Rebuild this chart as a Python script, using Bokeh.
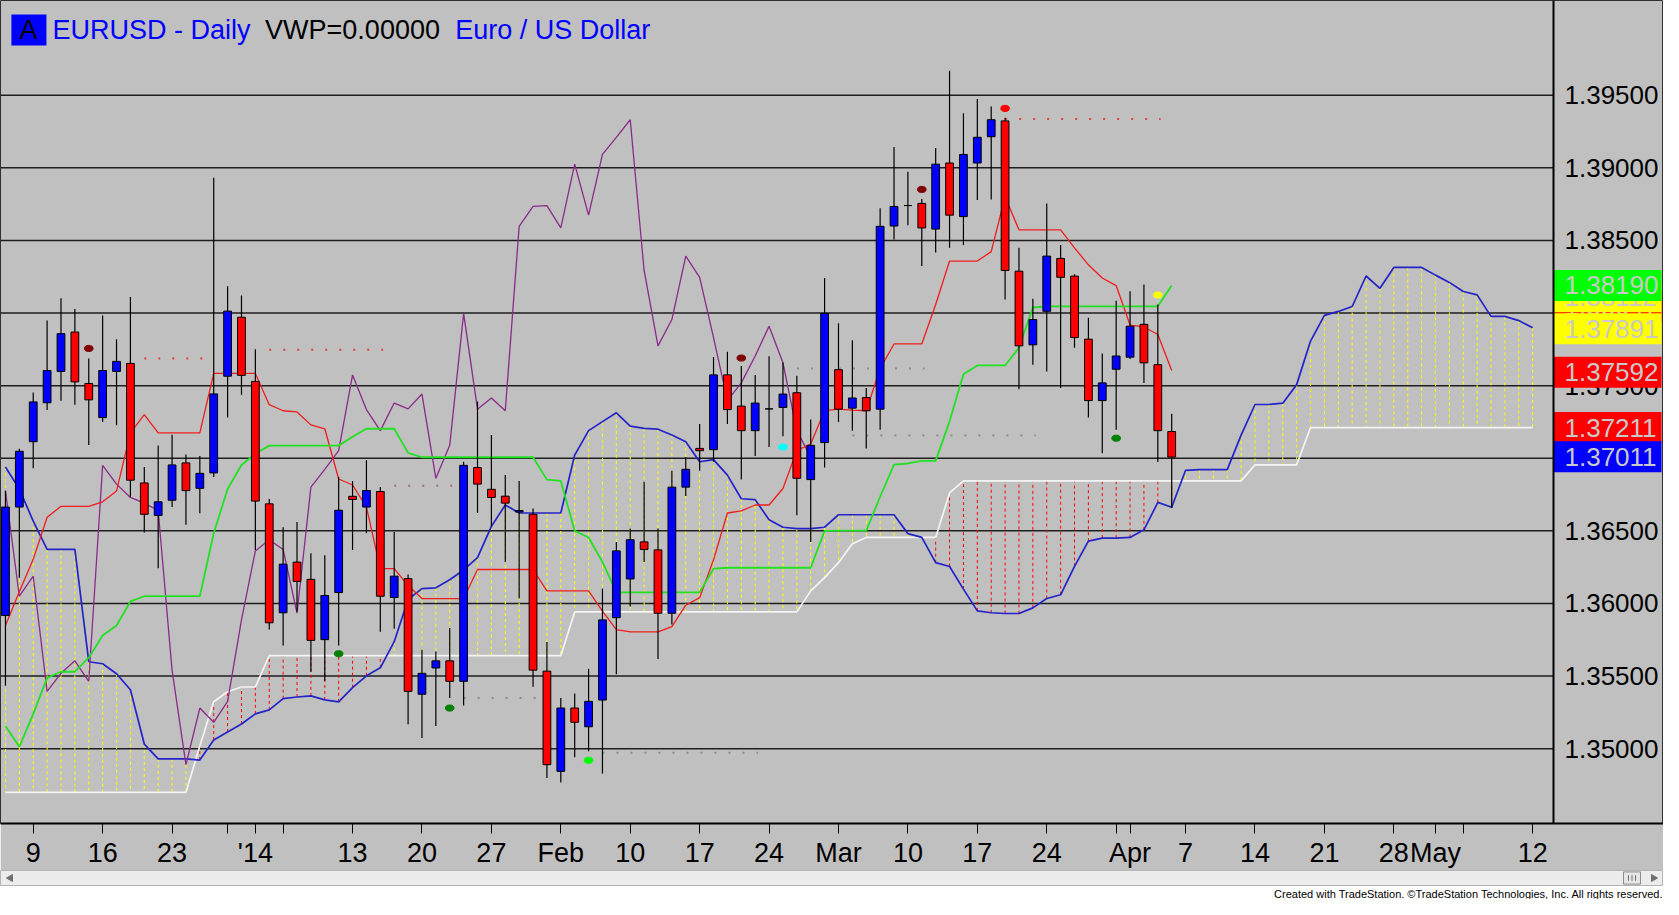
from bokeh.plotting import figure
from bokeh.layouts import column
from bokeh.models import ColumnDataSource, FixedTicker, Label, Range1d, Title
from bokeh.core.properties import value
from bokeh.embed import file_html
from bokeh.resources import INLINE

# ---------------- data (EURUSD daily, 5 Dec 2013 .. 4 Apr 2014, bar index 0..84) ----------------
open_ = [1.35917,1.36664,1.37114,1.37382,1.37598,1.37869,1.37515,1.37280,1.37598,1.37653,
         1.36830,1.36606,1.36711,1.36968,1.36793,1.36899,1.37565,1.37971,1.37529,1.36686,
         1.35936,1.36285,1.36166,1.35751,1.36075,1.36738,1.36664,1.36771,1.36041,1.36171,
         1.35375,1.35556,1.35605,1.35464,1.36936,1.36786,1.36739,1.36630,1.36614,1.35534,
         1.34844,1.35280,1.35151,1.35335,1.35902,1.36169,1.36424,1.36369,1.35933,1.36801,
         1.37068,1.37059,1.37574,1.37359,1.37190,1.37340,1.37350,1.37451,1.36853,1.37108,
         1.37610,1.37345,1.37418,1.37338,1.38599,1.38740,1.38755,1.38578,1.39033,1.38664,
         1.39033,1.39214,1.39323,1.38288,1.37781,1.38012,1.38376,1.38254,1.37820,1.37397,
         1.37613,1.37696,1.37922,1.37644,1.37184]
high = [1.36774,1.37065,1.37452,1.37949,1.38101,1.38027,1.37687,1.37983,1.37820,1.38110,
        1.36940,1.37087,1.37161,1.37026,1.37015,1.38931,1.38184,1.38121,1.37750,1.36719,
        1.36525,1.36561,1.36346,1.36332,1.36871,1.36843,1.36988,1.36802,1.36492,1.36199,
        1.35682,1.35670,1.35832,1.36976,1.37390,1.37160,1.36884,1.36844,1.36654,1.35734,
        1.35350,1.35381,1.35550,1.36102,1.36424,1.36516,1.36838,1.36516,1.36914,1.37007,
        1.37236,1.37697,1.37733,1.37635,1.37574,1.37703,1.37660,1.37568,1.37267,1.38242,
        1.37930,1.37813,1.37483,1.38721,1.39144,1.38973,1.38786,1.39137,1.39669,1.39375,
        1.39474,1.39422,1.39344,1.38449,1.38098,1.38755,1.38469,1.38267,1.37968,1.37722,
        1.38085,1.38150,1.38197,1.38059,1.37306]
low = [1.35433,1.36177,1.36932,1.37333,1.37396,1.37369,1.37092,1.37250,1.37228,1.36733,
       1.36489,1.36243,1.36664,1.36542,1.36622,1.36871,1.37280,1.37438,1.36368,1.35820,
       1.35710,1.35945,1.35530,1.35466,1.35710,1.36368,1.36484,1.35806,1.35826,1.35168,
       1.35074,1.35157,1.35350,1.35298,1.36623,1.36531,1.36286,1.36034,1.35427,1.34798,
       1.34768,1.34942,1.34982,1.34829,1.35513,1.35979,1.36286,1.35617,1.35856,1.36740,
       1.36914,1.36976,1.37236,1.36853,1.37016,1.37077,1.37151,1.36608,1.36424,1.36936,
       1.37249,1.37190,1.37068,1.37197,1.38506,1.38604,1.38324,1.38417,1.38449,1.38469,
       1.38778,1.38781,1.38093,1.37475,1.37644,1.37597,1.37483,1.37761,1.37280,1.37034,
       1.37197,1.37683,1.37519,1.36974,1.36657]
close = [1.36664,1.37048,1.37388,1.37604,1.37858,1.37526,1.37402,1.37604,1.37667,1.36849,
         1.36614,1.36700,1.36954,1.36777,1.36896,1.37443,1.38013,1.37571,1.36705,1.35867,
         1.36271,1.36152,1.35746,1.36055,1.36642,1.36716,1.36778,1.36050,1.36188,1.35395,
         1.35519,1.35605,1.35464,1.36951,1.36822,1.36730,1.36691,1.36640,1.35541,1.34890,
         1.35280,1.35182,1.35326,1.35887,1.36362,1.36439,1.36372,1.35933,1.36801,1.36924,
         1.37052,1.37574,1.37335,1.37190,1.37380,1.37340,1.37442,1.36862,1.37089,1.37997,
         1.37338,1.37415,1.37327,1.38597,1.38734,1.38740,1.38586,1.39025,1.38674,1.39092,
         1.39210,1.39331,1.38293,1.37774,1.37955,1.38392,1.38246,1.37831,1.37397,1.37519,
         1.37704,1.37909,1.37657,1.37190,1.37008]

# Ichimoku lines
tenkan = [1.35848,1.36081,1.36304,1.36594,1.36669,1.36669,1.36669,1.36700,1.36774,1.37175,
          1.37300,1.37175,1.37175,1.37175,1.37175,1.37584,1.37584,1.37584,1.37584,1.37369,
          1.37327,1.37319,1.37230,1.37203,1.36857,1.36816,1.36664,1.36240,1.36240,1.36124,
          1.36034,1.36034,1.36034,1.36034,1.36234,1.36234,1.36234,1.36234,1.36234,1.36087,
          1.36087,1.36087,1.36087,1.35948,1.35820,1.35804,1.35804,1.35804,1.35841,1.35988,
          1.36040,1.36301,1.36623,1.36638,1.36678,1.36678,1.36792,1.37052,1.37098,1.37328,
          1.37338,1.37332,1.37327,1.37618,1.37787,1.37787,1.37787,1.38059,1.38358,1.38358,
          1.38358,1.38423,1.38799,1.38573,1.38573,1.38573,1.38573,1.38449,1.38332,1.38241,
          1.38189,1.37917,1.37904,1.37852,1.37605]
kijun = [1.35157,1.35013,1.35240,1.35488,1.35530,1.35530,1.35627,1.35779,1.35848,1.36014,
         1.36050,1.36050,1.36050,1.36050,1.36050,1.36484,1.36788,1.36954,1.37031,1.37087,
         1.37087,1.37087,1.37087,1.37087,1.37087,1.37148,1.37203,1.37203,1.37203,1.37037,
         1.37007,1.37007,1.37007,1.37007,1.37007,1.37007,1.37007,1.37007,1.37007,1.36853,
         1.36844,1.36500,1.36454,1.36286,1.36077,1.36077,1.36077,1.36077,1.36077,1.36077,
         1.36077,1.36240,1.36246,1.36246,1.36246,1.36246,1.36246,1.36246,1.36246,1.36500,
         1.36502,1.36502,1.36502,1.36735,1.36956,1.36964,1.36982,1.36982,1.37254,1.37579,
         1.37639,1.37639,1.37639,1.37761,1.38038,1.38046,1.38046,1.38046,1.38046,1.38046,
         1.38046,1.38046,1.38046,1.38046,1.38189]
# leading spans, bar index 0..110 (26 bars past the last candle)
senkou_a = [1.36940,1.36788,1.36567,1.36373,1.36373,1.36373,1.35599,1.35585,1.35516,1.35406,
            1.35032,1.34930,1.34930,1.34930,1.34922,1.35060,1.35115,1.35170,1.35240,1.35267,
            1.35345,1.35356,1.35364,1.35336,1.35323,1.35420,1.35502,1.35557,1.35737,1.36028,
            1.36102,1.36108,1.36163,1.36231,1.36316,1.36531,1.36678,1.36623,1.36623,1.36623,
            1.36623,1.37022,1.37190,1.37252,1.37313,1.37221,1.37206,1.37200,1.37160,1.37114,
            1.36976,1.36991,1.36884,1.36721,1.36715,1.36577,1.36525,1.36516,1.36516,1.36525,
            1.36611,1.36611,1.36611,1.36611,1.36611,1.36481,1.36455,1.36281,1.36255,1.36099,
            1.35949,1.35936,1.35931,1.35931,1.35970,1.36034,1.36060,1.36255,1.36429,1.36450,
            1.36450,1.36455,1.36507,1.36696,1.36663,1.36917,1.36922,1.36922,1.36922,1.37159,
            1.37370,1.37370,1.37379,1.37507,1.37807,1.37984,1.38011,1.38045,1.38255,1.38170,
            1.38314,1.38314,1.38314,1.38261,1.38211,1.38148,1.38125,1.37977,1.37977,1.37948,
            1.37898]
senkou_b = [1.34700,1.34700,1.34700,1.34700,1.34700,1.34700,1.34700,1.34700,1.34700,1.34700,
            1.34700,1.34700,1.34700,1.34700,1.35018,1.35323,1.35392,1.35425,1.35425,1.35641,
            1.35641,1.35641,1.35641,1.35641,1.35641,1.35641,1.35641,1.35641,1.35641,1.35641,
            1.35641,1.35641,1.35641,1.35641,1.35641,1.35641,1.35641,1.35641,1.35641,1.35641,
            1.35641,1.35942,1.35942,1.35942,1.35942,1.35942,1.35942,1.35942,1.35942,1.35942,
            1.35942,1.35942,1.35942,1.35942,1.35942,1.35942,1.35942,1.35942,1.36087,1.36178,
            1.36281,1.36411,1.36455,1.36455,1.36455,1.36455,1.36455,1.36455,1.36761,1.36844,
            1.36844,1.36844,1.36844,1.36844,1.36844,1.36844,1.36844,1.36844,1.36844,1.36844,
            1.36844,1.36844,1.36844,1.36844,1.36844,1.36844,1.36844,1.36844,1.36844,1.36844,
            1.36955,1.36955,1.36955,1.36955,1.37211,1.37211,1.37211,1.37211,1.37211,1.37211,
            1.37211,1.37211,1.37211,1.37211,1.37211,1.37211,1.37211,1.37211,1.37211,1.37211,
            1.37211]
CHIKOU_SHIFT = 26

# signal dots
dot_bars = [6, 24, 32, 42, 53, 56, 66, 72, 80, 83]
dot_prices = [1.37756, 1.35654, 1.35280, 1.34920, 1.37690, 1.37077, 1.38851, 1.39409, 1.37138, 1.38124]
dot_colors = ["#800000", "#008000", "#008000", "#00ff00", "#800000", "#00ffff",
              "#800000", "#ff0000", "#008000", "#ffff00"]

# dotted levels
lvl_start = [10, 19, 28, 33, 43, 56, 61, 72]
lvl_end = [14, 27, 32, 38, 54, 66, 74, 83]
lvl_price = [1.37687, 1.37747, 1.36810, 1.35350, 1.34973, 1.37618, 1.37156, 1.39336]
lvl_color = ["#e04040", "#e04040", "#a07070", "#8c8c8c", "#8c8c8c", "#8c8c8c", "#8c8c8c", "#e04040"]

# axes
date_tick_bars = [2, 7, 12, 16, 18, 20, 25, 30, 35, 40, 45, 50, 55, 60, 65, 70, 75, 80, 81,
                  85, 90, 95, 100, 103, 105, 110]
date_tick_labels = ["9", "16", "23", "", "'14", "", "13", "20", "27", "Feb", "10", "17", "24",
                    "Mar", "10", "17", "24", "", "Apr", "7", "14", "21", "28", "May", "", "12"]
grid_prices = [1.350, 1.355, 1.360, 1.365, 1.370, 1.375, 1.380, 1.385, 1.390, 1.395]
axis_prices = [1.350, 1.355, 1.360, 1.365, 1.375, 1.385, 1.390, 1.395]
axis_labels = ["1.35000", "1.35500", "1.36000", "1.36500", "1.37500", "1.38500", "1.39000", "1.39500"]

# last-value tags on the price scale (drawn in this order)
tag_prices = [1.38047, 1.38112, 1.38190, 1.37891, 1.37592, 1.37211, 1.37011]
tag_texts = ["1.38047", "1.38112", "1.38190", "1.37891", "1.37592", "1.37211", "1.37011"]
tag_colors = ["#ff0000", "#ffff00", "#00ff00", "#ffff00", "#ff0000", "#ff0000", "#0000ff"]

# ---------------- figure geometry ----------------
W = 1663
H_MAIN, BOTTOM = 870, 47
H_BAR = 29
SCALE_W = 110                      # width of the price-scale strip, px
CHART_W = W - SCALE_W              # width of the chart area, px
FRAME_H = H_MAIN - BOTTOM
X0, X1 = -0.357, 111.5             # chart area in bar units
Y0, Y1 = 1.34485, 1.40152
DX = (X1 - X0) / CHART_W           # bar units per px
DY = (Y1 - Y0) / FRAME_H           # price per px
XE = X1 + SCALE_W * DX
REF_W, REF_H = 1566.0, 837.0       # reference chart size, used to place the header texts


def px2x(px):
    return X0 + px / REF_W * (X1 - X0)


def py2y(py):
    return Y1 - py / REF_H * (Y1 - Y0)


p = figure(width=W, height=H_MAIN, x_range=Range1d(X0, XE), y_range=Range1d(Y0, Y1),
           output_backend="svg", toolbar_location=None, y_axis_location=None,
           min_border_left=0, min_border_right=0, min_border_top=0, min_border_bottom=BOTTOM,
           background_fill_color="#c0c0c0", border_fill_color="#c0c0c0",
           outline_line_color="#303030", outline_line_width=1)

FONT = "Liberation Sans"

p.xgrid.visible = False
p.ygrid.visible = False

p.xaxis.ticker = FixedTicker(ticks=date_tick_bars)
p.xaxis.major_label_overrides = dict(zip(date_tick_bars, date_tick_labels))
p.xaxis.major_label_text_font = FONT
p.xaxis.major_label_text_font_size = "27px"
p.xaxis.major_label_text_color = "black"
p.xaxis.axis_line_color = "black"
p.xaxis.axis_line_width = 2
p.xaxis.major_tick_out = 10
p.xaxis.major_tick_in = 0
p.xaxis.major_tick_line_color = "black"
p.xaxis.minor_tick_out = 0
p.xaxis.minor_tick_in = 0
p.xaxis.major_label_standoff = 4

# horizontal price grid (chart area only)
p.segment(x0=[X0] * len(grid_prices), y0=grid_prices, x1=[X1] * len(grid_prices), y1=grid_prices,
          line_color="#1e1e1e", line_width=1.5)

# ---------------- cloud hatching ----------------
cloud_x = list(range(len(senkou_a)))
hatch_col = ["#ffff00" if a >= b else "#ff0000" for a, b in zip(senkou_a, senkou_b)]
p.segment(x0=cloud_x, y0=senkou_a, x1=cloud_x, y1=senkou_b, line_color=hatch_col,
          line_width=1, line_dash="3 3")

# dotted levels
for s, e, pr, c in zip(lvl_start, lvl_end, lvl_price, lvl_color):
    p.segment(x0=[s], y0=[pr], x1=[e + 0.2], y1=[pr], line_color=c, line_width=2, line_dash="2 12")

# ---------------- lines ----------------
p.line(cloud_x, senkou_b, line_color="#f4f4f4", line_width=1.7)
p.line(cloud_x, senkou_a, line_color="#2323c8", line_width=1.7)
bars = list(range(len(close)))
p.line(list(range(len(close) - CHIKOU_SHIFT)), close[CHIKOU_SHIFT:], line_color="#8a2a8a", line_width=1.3)
p.line(bars, tenkan, line_color="#f01c1c", line_width=1.3)
p.line(bars, kijun, line_color="#22e022", line_width=1.8)

# ---------------- candles ----------------
col = ["#0000ff" if c > o else ("#ff0000" if c < o else "#000000") for o, c in zip(open_, close)]
src = ColumnDataSource(dict(x=bars, h=high, l=low,
                            top=[max(o, c) for o, c in zip(open_, close)],
                            bottom=[min(o, c) for o, c in zip(open_, close)],
                            color=col))
p.segment(x0="x", y0="h", x1="x", y1="l", source=src, line_color="black", line_width=1.2)
p.vbar(x="x", width=0.56, top="top", bottom="bottom", source=src,
       fill_color="color", line_color="black", line_width=1)

# signal dots
p.ellipse(x=dot_bars, y=dot_prices, width=0.62, height=0.00042, fill_color=dot_colors,
          line_color=dot_colors)

# ---------------- price scale ----------------
p.text(x=[X1] * len(axis_prices), y=axis_prices, text=axis_labels, x_offset=11,
       text_font=value(FONT), text_font_size=value("26px"), text_color="black",
       text_align="left", text_baseline="middle")
for pr, txt, c in zip(tag_prices, tag_texts, tag_colors):
    p.quad(left=[X1], right=[X1 + (SCALE_W - 2) * DX], bottom=[pr - 15.5 * DY], top=[pr + 15.5 * DY],
           fill_color=c, line_color=None)
    p.text(x=[X1], y=[pr], text=[txt], x_offset=11, text_font=value(FONT),
           text_font_size=value("26px"), text_color="#c9c9c9",
           text_align="left", text_baseline="middle")
p.segment(x0=[X1], y0=[Y0], x1=[X1], y1=[Y1], line_color="black", line_width=2)

# ---------------- header ----------------
base_y = py2y(30)
p.add_layout(Label(x=px2x(11), y=base_y, text="A", text_font=FONT, text_font_size="27px",
                   text_color="black", text_baseline="alphabetic", background_fill_color="#0000ff",
                   padding=dict(left=8, right=9, top=1, bottom=0)))
for px, txt, c in [(52.5, "EURUSD - Daily", "#0000ff"), (266.8, "VWP=0.00000", "black"),
                   (458.6, "Euro / US Dollar", "#0000ff")]:
    p.add_layout(Label(x=px2x(px), y=base_y, text=txt, text_font=FONT, text_font_size="27px",
                       text_color=c, text_baseline="alphabetic"))

# ---------------- scroll bar strip + footer ----------------
sb = figure(width=W, height=H_BAR, x_range=Range1d(0, W), y_range=Range1d(0, 16),
            output_backend="svg", toolbar_location=None, x_axis_location=None, y_axis_location=None,
            min_border_left=0, min_border_right=0, min_border_top=0, min_border_bottom=13,
            background_fill_color="#ececec", border_fill_color="white",
            outline_line_color="#b4b4b4", outline_line_width=1)
sb.xgrid.visible = False
sb.ygrid.visible = False
sb.scatter(x=[10, W - 10], y=[8, 8], marker="triangle", angle=[1.5708, -1.5708], size=7,
           fill_color="#707070", line_color="#707070")
sb.quad(left=[W - 40], right=[W - 23], bottom=[1.5], top=[14.5], fill_color="#e6e6e6",
        line_color="#8c8c8c")
sb.segment(x0=[W - 35, W - 31.5, W - 28], y0=[5, 5, 5], x1=[W - 35, W - 31.5, W - 28], y1=[11, 11, 11],
           line_color="#707070", line_width=1)
sb.add_layout(Title(text="Created with TradeStation. \u00a9TradeStation Technologies, Inc. All rights reserved.",
                    align="right", text_font=FONT, text_font_size="11px", text_font_style="normal",
                    text_color="black", standoff=0), "below")

open("out.html", "w").write(file_html(column(p, sb, spacing=0), INLINE))
